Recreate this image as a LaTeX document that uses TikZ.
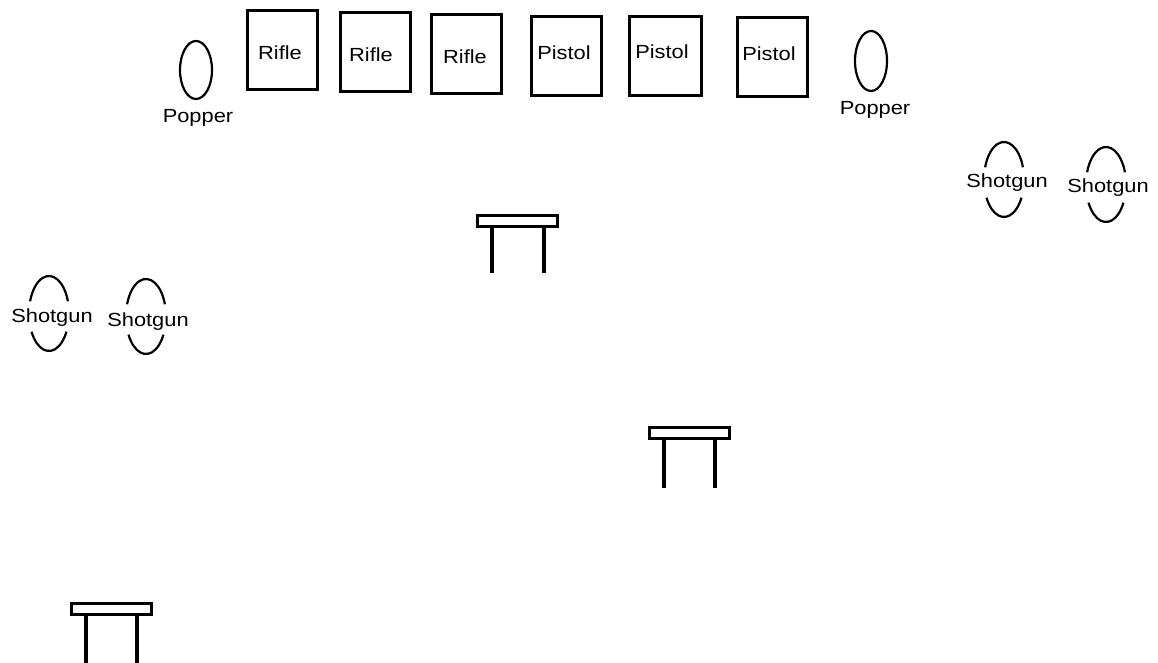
\documentclass[tikz,border=0pt]{standalone}
\usepackage{fontspec}
\setmainfont{Liberation Sans}
\usetikzlibrary{shapes.geometric}
\newcommand{\wtxt}[1]{\scalebox{1.15}[1]{#1}}
\tikzset{
  x=1pt, y=1pt,
  lbl/.style={inner sep=0pt, font=\fontsize{19}{22}\selectfont},
  targetbox/.style={draw, line width=3pt, minimum width=70pt, minimum height=79pt, inner sep=0pt},
  popperell/.style={draw, ellipse, line width=2.2pt, minimum width=32pt, minimum height=58pt, inner sep=0pt},
  tabletop/.style={draw, line width=3pt, minimum width=80pt, minimum height=11pt, inner sep=0pt},
  tableleg/.style={line width=4pt},
  shotarc/.style={line width=2.2pt},
}
\newcommand{\shotgun}[3]{%
  % #1 name, #2 centre of ellipse, #3 text position
  \coordinate (#1c) at #2;
  \node[lbl] (#1) at #3 {\wtxt{Shotgun}};
  \draw[shotarc] (#1c) ++(19:20 and 37.5) arc[start angle=19, end angle=161, x radius=20, y radius=37.5];
  \draw[shotarc] (#1c) ++(209:20 and 37.5) arc[start angle=209, end angle=331, x radius=20, y radius=37.5];
}
\newcommand{\shoottable}[4]{%
  % #1 name, #2 top centre, #3 leg offset, #4 leg length
  \node[tabletop] (#1) at #2 {};
  \draw[tableleg] ([xshift=-#3pt]#1.south) -- ++(0,-#4);
  \draw[tableleg] ([xshift=#3pt]#1.south) -- ++(0,-#4);
}
\begin{document}
\begin{tikzpicture}
\useasboundingbox (0,0) rectangle (1158,663);
\fill[white] (0,0) rectangle (1158,663);

% poppers
\node[popperell] (popL) at (196,593) {};
\node[lbl] (popLt) at (198,545) {\wtxt{Popper}};
\node[popperell, minimum height=60pt] (popR) at (871,602) {};
\node[lbl] (popRt) at (875,553) {\wtxt{Popper}};

% target boxes
\node[targetbox] (rifle1) at (282.5,612.5) {};
\node[lbl] (rifle1t) at (280,610) {\wtxt{Rifle}};
\node[targetbox] (rifle2) at (375.5,610.5) {};
\node[lbl] (rifle2t) at (371,608) {\wtxt{Rifle}};
\node[targetbox] (rifle3) at (466.5,609) {};
\node[lbl] (rifle3t) at (465,606) {\wtxt{Rifle}};
\node[targetbox] (pistol1) at (566.5,607) {};
\node[lbl] (pistol1t) at (564,610) {\wtxt{Pistol}};
\node[targetbox, minimum width=72pt] (pistol2) at (665.5,607) {};
\node[lbl] (pistol2t) at (662,611) {\wtxt{Pistol}};
\node[targetbox] (pistol3) at (772.5,605.5) {};
\node[lbl] (pistol3t) at (769,609) {\wtxt{Pistol}};

% shotguns
\shotgun{sgR1}{(1004,483.5)}{(1007,480)}
\shotgun{sgR2}{(1106,478.5)}{(1108,475)}
\shotgun{sgL1}{(49,349.5)}{(52,345)}
\shotgun{sgL2}{(146,346.5)}{(148,341)}

% tables
\shoottable{tab1}{(517.5,442)}{26}{45}
\shoottable{tab2}{(689,230)}{25.5}{48}
\shoottable{tab3}{(111.5,53.5)}{25.5}{50}
\end{tikzpicture}
\end{document}
